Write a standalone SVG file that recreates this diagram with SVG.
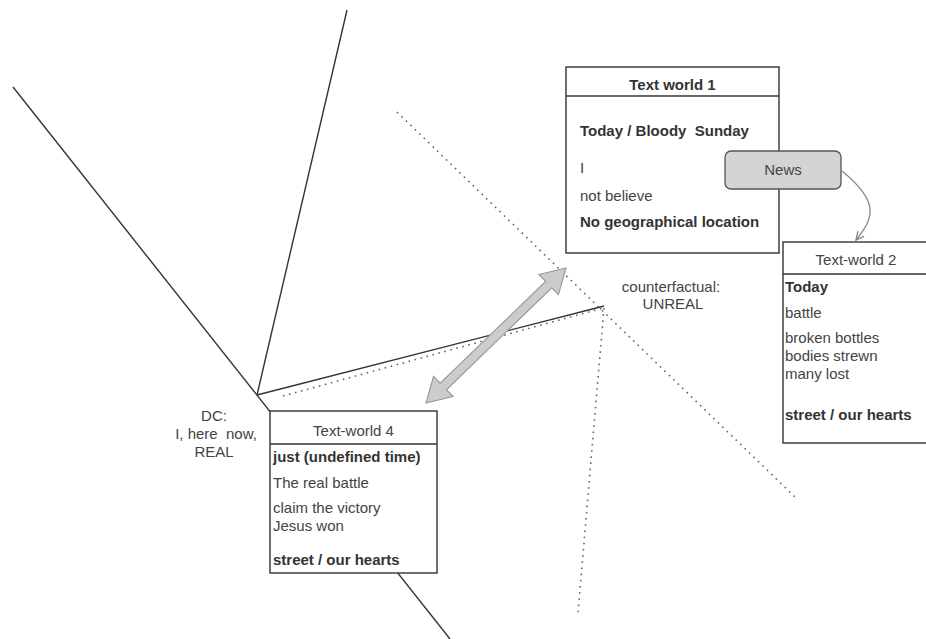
<svg xmlns="http://www.w3.org/2000/svg" width="926" height="639" viewBox="0 0 926 639">
<defs>
<style>
text{font-family:"Liberation Sans",Arial,sans-serif;font-size:15px;fill:#444;white-space:pre}
.b{font-weight:bold;fill:#333}
.c{text-anchor:middle}
.solid{stroke:#333;stroke-width:1.4;fill:none}
.dot{stroke:#666;stroke-width:1.6;fill:none;stroke-dasharray:1.6 4.6}
.box{fill:#fff;stroke:#333;stroke-width:1.4}
</style>
<marker id="open" viewBox="0 0 10 10" refX="9" refY="5" markerWidth="10" markerHeight="10" markerUnits="userSpaceOnUse" orient="auto">
<path d="M1,1 L9,5 L1,9" fill="none" stroke="#888" stroke-width="1.4"/>
</marker>
</defs>
<rect width="926" height="639" fill="#fff"/>
<g id="connectors">
<line class="solid" x1="13" y1="87" x2="450" y2="639"/>
<line class="solid" x1="257" y1="395" x2="347" y2="10"/>
<line class="solid" x1="257" y1="395" x2="604" y2="306"/>
<line class="dot" x1="283" y1="396" x2="603" y2="308"/>
<line class="dot" x1="397" y1="112" x2="795" y2="497"/>
<line class="dot" x1="604" y1="308" x2="578" y2="613"/>
<polygon points="426,403 453,396.5 446.4,389.7 551.8,287.9 558.4,294.7 566,268 539,274.5 545.6,281.4 440.2,383.2 433.6,376.3" fill="#ccc" stroke="#999" stroke-width="1.2"/>
<path d="M842,171 C880,202 874,218 856,240" fill="none" stroke="#888" stroke-width="1.3" marker-end="url(#open)"/>
</g>
<g id="tw1">
<rect class="box" x="566" y="67" width="213" height="186"/>
<line class="solid" x1="566" y1="96" x2="779" y2="96"/>
<text class="b c" x="672.5" y="90">Text world 1</text>
<text class="b" x="580" y="136" xml:space="preserve">Today / Bloody  Sunday</text>
<text x="580" y="173">I</text>
<text x="580" y="201">not believe</text>
<text class="b" x="580" y="227">No geographical location</text>
</g>
<g id="news">
<rect x="725" y="151" width="116" height="38" rx="6" fill="#d4d4d4" stroke="#555" stroke-width="1.3"/>
<text class="c" x="783" y="175">News</text>
</g>
<g id="tw2">
<rect class="box" x="783" y="242" width="150" height="201"/>
<line class="solid" x1="783" y1="274" x2="933" y2="274"/>
<text class="c" x="856" y="265">Text-world 2</text>
<text class="b" x="785" y="292">Today</text>
<text x="785" y="318">battle</text>
<text x="785" y="343">broken bottles</text>
<text x="785" y="361">bodies strewn</text>
<text x="785" y="379">many lost</text>
<text class="b" x="785" y="420">street / our hearts</text>
</g>
<g id="tw4">
<rect class="box" x="270" y="411" width="167" height="162"/>
<line class="solid" x1="270" y1="444" x2="437" y2="444"/>
<text class="c" x="353.5" y="436">Text-world 4</text>
<text class="b" x="273" y="462">just (undefined time)</text>
<text x="273" y="488">The real battle</text>
<text x="273" y="513">claim the victory</text>
<text x="273" y="531">Jesus won</text>
<text class="b" x="273" y="565">street / our hearts</text>
</g>
<g id="dc">
<text class="c" x="214" y="421">DC:</text>
<text class="c" x="216" y="439" xml:space="preserve">I, here  now,</text>
<text class="c" x="214" y="457">REAL</text>
</g>
<g id="cf">
<text class="c" x="671" y="292">counterfactual:</text>
<text class="c" x="673" y="309">UNREAL</text>
</g>
</svg>
